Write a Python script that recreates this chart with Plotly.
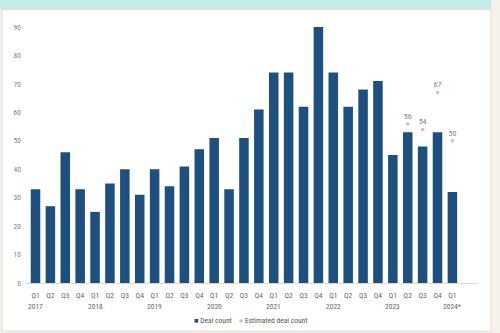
import plotly.graph_objects as go

quarters = ["Q1", "Q2", "Q3", "Q4"]
years = ["2017", "2018", "2019", "2020", "2021", "2022", "2023", "2024*"]
categories = [f"{y}-{q}" for y in years for q in quarters][:29]
quarter_labels = [c.split("-")[1] for c in categories]
year_labels = years

deal_count = [33, 27, 46, 33, 25, 35, 40, 31, 40, 34, 41, 47, 51, 33, 51, 61,
              74, 74, 62, 90, 74, 62, 68, 71, 45, 53, 48, 53, 32]
est_categories = ["2023-Q2", "2023-Q3", "2023-Q4", "2024*-Q1"]
est_values = [56, 54, 67, 50]

y_ticks = [0, 10, 20, 30, 40, 50, 60, 70, 80, 90]

FONT = "Liberation Sans Narrow, Roboto Condensed, Roboto, sans-serif"
BAR_COLOR = "#1e4f7e"
EST_COLOR = "#f5b98c"

fig = go.Figure()
fig.add_trace(go.Bar(
    x=categories, y=deal_count, name="Deal count",
    marker=dict(color=BAR_COLOR, line=dict(width=0)),
))
fig.add_trace(go.Scatter(
    x=est_categories, y=est_values, name="Estimated deal count",
    mode="markers+text", text=[str(v) for v in est_values],
    textposition="top center", textfont=dict(size=8, color="#808080", family=FONT),
    marker=dict(color=EST_COLOR, size=3.5, symbol="circle"),
))

# plot area: x 26..478, y 27..283
def px_x(X):
    return (X - 26) / 452.0

def px_y(Y):
    return (283 - Y) / 256.0

shapes = [
    dict(type="rect", xref="paper", yref="paper", layer="below",
         x0=px_x(2), x1=px_x(491), y0=px_y(331), y1=px_y(9.5),
         fillcolor="white", line=dict(color="#dcdcdc", width=1)),
    dict(type="rect", xref="paper", yref="paper", layer="below",
         x0=px_x(-2), x1=px_x(491.5), y0=px_y(9), y1=px_y(-2),
         fillcolor="#c4ede9", line=dict(width=0)),
]

annotations = []
for i, y in enumerate(year_labels):
    annotations.append(dict(
        x=categories[i * 4], y=px_y(306.5), xref="x", yref="paper",
        text=y, showarrow=False, font=dict(size=7.5, color="#666666", family=FONT),
        xanchor="center", yanchor="middle",
    ))

legend_text = (f"<span style='color:{BAR_COLOR}'>■</span> Deal count"
               f"    <span style='color:{EST_COLOR}'>●</span> Estimated deal count")
annotations.append(dict(
    x=px_x(192), y=px_y(320.5), xref="paper", yref="paper", text=legend_text,
    showarrow=False, xanchor="left", yanchor="middle",
    font=dict(size=7.5, color="#555555", family=FONT),
))

fig.update_layout(
    width=500, height=333,
    margin=dict(l=26, r=22, t=27, b=50, autoexpand=False),
    paper_bgcolor="#f6f2ea", plot_bgcolor="white",
    bargap=0.36,
    showlegend=False,
    shapes=shapes, annotations=annotations,
    font=dict(family=FONT),
)
fig.update_xaxes(
    type="category", tickvals=categories, ticktext=quarter_labels,
    tickfont=dict(size=7.5, color="#666666", family=FONT),
    showgrid=False, showline=True, linecolor="#d9d9d9", linewidth=1,
    ticks="", ticklen=0, ticklabelstandoff=5, automargin=False,
)
fig.update_yaxes(
    range=[0, 90], tickvals=y_ticks, showgrid=False, zeroline=False,
    tickfont=dict(size=7.5, color="#808080", family=FONT), ticks="",
    showline=False, automargin=False, ticklabelstandoff=4,
)

fig.write_html("out.html")
